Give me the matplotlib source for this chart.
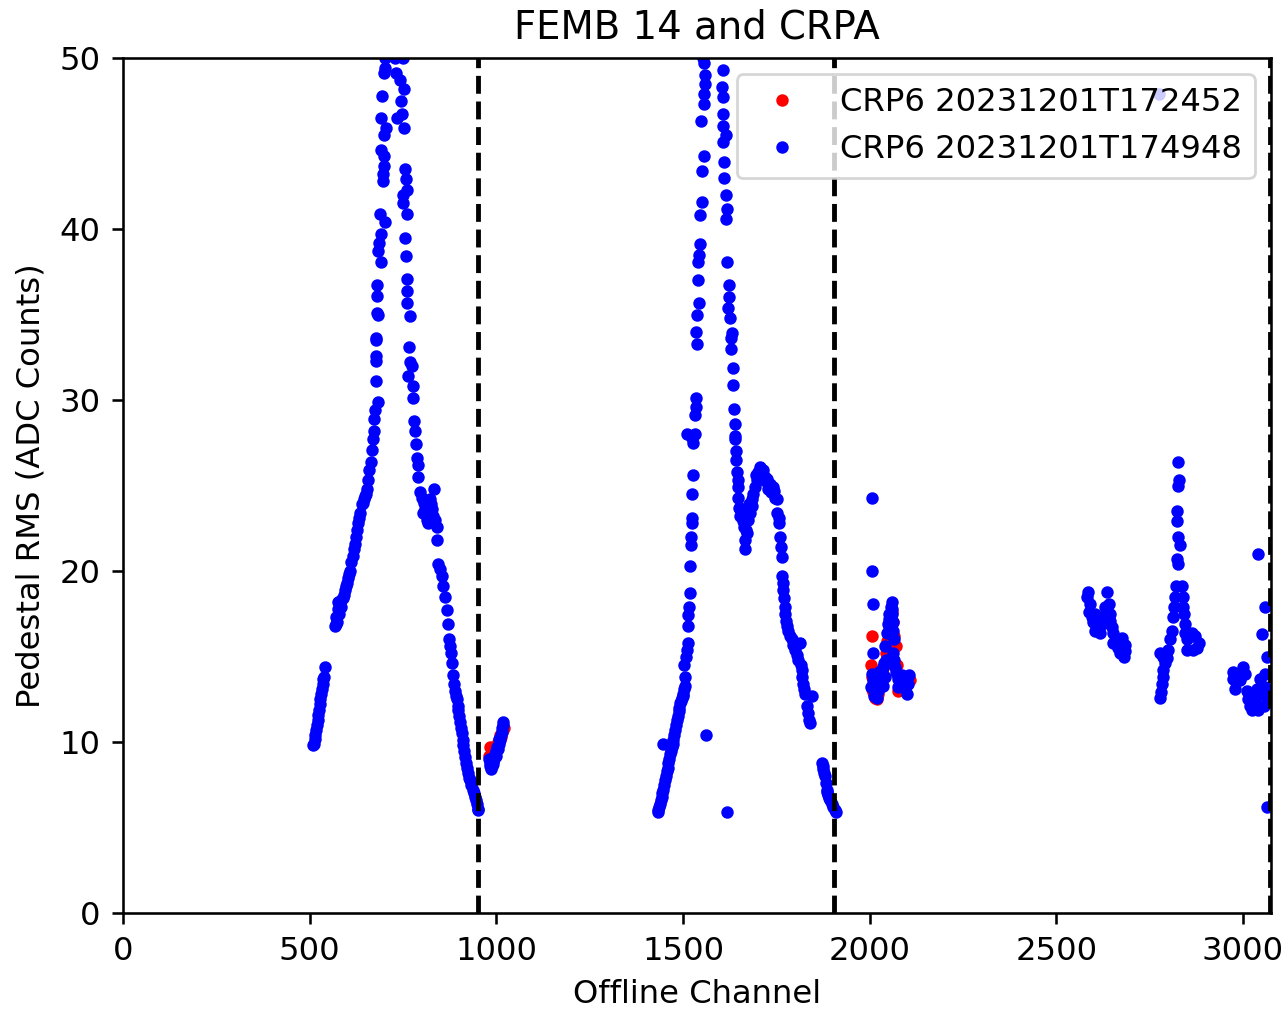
import matplotlib
matplotlib.use("Agg")
import matplotlib.pyplot as plt

# (offline channel, pedestal RMS) readings, run CRP6 20231201T174948
run2_ind1_low = [
    (510, 9.8), (512, 9.9), (513, 10.2), (515, 10.4), (517, 10.7), (519, 11.0),
    (521, 11.3), (523, 11.6), (525, 11.9), (527, 12.2), (529, 12.5), (531, 12.8),
    (533, 13.1), (535, 13.4), (537, 13.7), (539, 13.8), (541, 14.4),
]
run2_ind1_rise = [
    (568, 16.8), (570, 17.3), (571, 16.9), (573, 17.0), (575, 17.8), (577, 18.2),
    (579, 17.5), (581, 17.9), (583, 18.3), (585, 17.9), (588, 18.4), (591, 18.6),
    (594, 18.9), (597, 19.1), (600, 19.3), (603, 19.6), (606, 19.8), (609, 20.0),
    (612, 20.5), (615, 20.9), (618, 21.3), (621, 21.6), (624, 22.0), (627, 22.4),
    (630, 22.8), (633, 23.1), (636, 23.4), (639, 23.9), (642, 24.0), (645, 24.2),
    (648, 24.4), (651, 24.5), (654, 24.8), (657, 25.3), (660, 25.9), (663, 26.4),
    (666, 27.1), (669, 27.7), (671, 28.2), (673, 28.9), (675, 29.4), (682, 29.9),
    (678, 31.1), (678, 32.3), (678, 32.6), (679, 33.5),
]
run2_ind1_peak = [
    (678, 33.6), (684, 35.0), (681, 35.1), (681, 36.1), (681, 36.7), (690, 38.1),
    (684, 38.7), (687, 39.2), (690, 39.7), (702, 40.4), (688, 40.9), (696, 42.8),
    (696, 43.2), (698, 43.7), (700, 44.3), (690, 44.6), (700, 45.5), (705, 45.9),
    (690, 46.5), (695, 47.8), (698, 49.1), (702, 49.4), (702, 50.0),
    (729, 50.0), (751, 50.0), (731, 49.1), (741, 48.7), (753, 48.2), (744, 47.5),
    (733, 46.5), (748, 46.7), (753, 45.9), (755, 43.5), (757, 42.9), (762, 42.3),
    (751, 42.0), (751, 41.5), (760, 40.9), (755, 39.5), (758, 38.4), (760, 37.1),
    (762, 36.4), (762, 35.7), (769, 34.9),
]
run2_ind1_fall = [
    (767, 33.1), (769, 32.2), (773, 32.0), (764, 31.4), (776, 30.8), (778, 30.1),
    (780, 28.8), (782, 28.2), (785, 27.4), (787, 26.6), (791, 26.2), (791, 25.5),
    (796, 24.6), (800, 24.3), (803, 23.4), (805, 24.0), (807, 24.1), (809, 23.6),
    (811, 23.8), (813, 23.0), (816, 23.4), (818, 22.8), (820, 23.3), (822, 24.2),
    (824, 23.9), (827, 23.6), (829, 22.9), (831, 23.2), (833, 24.8), (836, 23.0),
    (840, 22.6), (840, 21.8), (845, 20.4), (849, 20.1), (854, 19.7), (858, 19.1),
    (863, 18.5), (867, 17.7), (871, 16.9), (874, 16.0), (877, 15.6), (879, 15.2),
    (880, 14.6), (883, 13.9), (886, 13.4), (889, 13.0), (892, 12.7), (894, 12.5),
    (896, 12.1), (898, 11.9), (901, 11.5), (903, 11.2), (905, 10.8), (907, 10.5),
    (910, 10.1), (912, 9.8), (914, 9.5), (916, 9.1), (919, 8.8), (922, 8.5),
    (925, 8.2), (928, 7.9), (930, 7.8), (933, 7.5), (937, 7.2), (940, 7.0),
    (943, 6.8), (946, 6.6), (949, 6.4), (951, 6.1), (952, 6.0),
]
run2_ind2_head = [
    (980, 9.0), (982, 8.6), (984, 8.8), (986, 8.4), (988, 8.6), (990, 8.9),
    (992, 8.7), (994, 9.0), (996, 9.3), (998, 9.2), (1000, 9.5), (1002, 9.7),
    (1004, 9.6), (1006, 9.9), (1008, 10.2), (1010, 10.1), (1012, 10.4),
    (1014, 10.6), (1016, 10.8), (1018, 11.0), (1019, 11.2),
]
run2_ind2_rise = [
    (1433, 5.9), (1434, 6.0), (1436, 6.2), (1438, 6.4), (1440, 6.6), (1443, 6.8),
    (1445, 7.0), (1447, 7.2), (1450, 7.5), (1452, 7.8), (1454, 8.0), (1456, 8.3),
    (1459, 8.5), (1461, 8.8), (1463, 9.0), (1465, 9.3), (1468, 9.5), (1470, 9.7),
    (1472, 9.9), (1474, 10.1), (1477, 10.4), (1479, 10.7), (1481, 11.0),
    (1483, 11.3), (1486, 11.5), (1488, 11.8), (1490, 12.0), (1492, 12.3),
    (1495, 12.4), (1497, 12.6), (1499, 12.7), (1501, 12.8), (1503, 13.1),
    (1505, 13.3), (1505, 13.8), (1504, 14.5), (1507, 15.0), (1510, 15.4),
    (1513, 15.8), (1513, 16.8), (1514, 17.4), (1517, 17.9), (1519, 18.7),
    (1519, 20.3), (1521, 21.5), (1522, 22.0), (1523, 22.8), (1523, 23.1),
    (1525, 24.5), (1526, 25.6), (1528, 27.5), (1523, 27.8), (1510, 28.0),
    (1532, 28.0), (1446, 9.9), (1562, 10.4), (1618, 5.9),
]
run2_ind2_peak = [
    (1532, 29.1), (1535, 29.6), (1535, 30.1), (1537, 33.3), (1535, 34.0),
    (1537, 35.0), (1543, 35.7), (1541, 37.0), (1539, 38.1), (1544, 38.5),
    (1546, 39.1), (1546, 40.8), (1550, 41.6), (1550, 43.4), (1555, 44.3),
    (1548, 46.3), (1556, 47.3), (1555, 47.9), (1559, 48.5), (1559, 49.0),
    (1555, 49.7), (1554, 50.0),
    (1608, 49.3), (1604, 48.3), (1606, 47.7), (1606, 46.7), (1608, 46.0),
    (1615, 45.5), (1608, 45.1), (1611, 43.9), (1611, 43.0), (1614, 42.0),
    (1619, 41.2), (1615, 40.6), (1617, 38.1), (1624, 36.7), (1624, 36.0),
    (1621, 35.4), (1626, 34.8), (1631, 33.9), (1628, 33.6), (1629, 33.0),
    (1633, 31.9), (1635, 30.9), (1637, 29.5), (1640, 28.6), (1640, 27.9),
]
run2_ind2_fall = [
    (1640, 27.7), (1642, 27.0), (1642, 26.5), (1644, 25.8), (1646, 25.3),
    (1648, 24.9), (1648, 24.3), (1651, 23.7), (1653, 23.2), (1657, 23.6),
    (1660, 22.9), (1663, 22.6), (1666, 21.8), (1666, 21.3), (1668, 22.4),
    (1671, 22.2), (1673, 23.4), (1675, 23.0), (1678, 23.9), (1680, 23.4),
    (1684, 23.8), (1686, 24.2), (1688, 24.5), (1693, 24.9), (1695, 25.6),
    (1698, 25.3), (1702, 25.8), (1705, 26.1), (1708, 25.6), (1711, 25.7),
    (1715, 25.9), (1718, 25.3), (1720, 25.5), (1724, 25.4), (1727, 24.8),
    (1729, 25.1), (1733, 25.1), (1736, 24.6), (1738, 24.7), (1741, 24.9),
    (1744, 24.7), (1747, 24.3), (1751, 24.2), (1753, 23.4), (1756, 23.1),
    (1758, 22.8), (1760, 22.0), (1763, 21.4), (1765, 20.8), (1766, 19.7),
    (1768, 19.3), (1769, 18.9), (1771, 18.4), (1772, 17.9), (1774, 17.5),
    (1776, 17.1), (1779, 16.8), (1782, 16.5), (1786, 16.2), (1791, 16.0),
    (1795, 15.7), (1800, 15.4), (1805, 15.1), (1809, 14.8), (1814, 15.8),
    (1815, 14.5), (1818, 14.2), (1820, 13.8), (1822, 13.4), (1825, 13.1),
    (1827, 12.8), (1831, 12.1), (1835, 11.7), (1838, 11.3), (1840, 11.1),
    (1845, 12.7),
    (1872, 8.8), (1874, 8.6), (1876, 8.4), (1878, 8.2), (1880, 8.0),
    (1883, 7.6), (1885, 7.2), (1887, 7.1), (1889, 6.9), (1892, 6.7),
    (1894, 6.6), (1898, 6.4), (1903, 6.2), (1907, 6.0), (1910, 5.9),
]
run2_col_a = [
    (2007, 24.3), (2007, 20.0), (2010, 18.1), (2010, 15.2), (2003, 13.2),
    (2005, 14.0), (2008, 13.6), (2010, 13.4), (2012, 12.7), (2014, 12.8),
    (2016, 13.3), (2019, 12.6), (2021, 13.9), (2023, 13.0), (2025, 14.1),
    (2028, 13.6), (2030, 13.8), (2032, 14.2), (2035, 13.9), (2037, 14.4),
    (2037, 13.3), (2039, 14.6), (2041, 13.8), (2041, 15.6), (2044, 14.8),
    (2046, 16.4), (2049, 16.9), (2051, 17.2), (2053, 17.5), (2056, 17.9),
    (2059, 18.2), (2060, 17.8), (2061, 17.5), (2062, 17.0), (2063, 16.5),
    (2065, 16.0), (2063, 15.2), (2066, 14.8), (2068, 14.4), (2070, 14.1),
    (2072, 14.0), (2075, 13.7), (2077, 13.2), (2079, 13.9), (2081, 13.6),
    (2084, 13.4), (2086, 13.9), (2088, 13.5), (2090, 13.8), (2093, 13.3),
    (2095, 13.2), (2097, 13.7), (2099, 13.6), (2101, 12.8), (2104, 13.4),
    (2106, 13.9),
]
run2_col_b = [
    (2582, 18.5), (2586, 18.8), (2590, 18.1), (2588, 17.6), (2595, 17.3),
    (2599, 17.0), (2604, 16.5), (2604, 17.5), (2608, 17.1), (2613, 16.7),
    (2617, 16.4), (2622, 16.9), (2626, 17.3), (2631, 17.9), (2635, 18.8),
    (2640, 18.1), (2644, 17.5), (2644, 17.1), (2649, 16.7), (2651, 16.4),
    (2653, 15.8), (2662, 16.0), (2666, 15.5), (2671, 15.2), (2675, 16.1),
    (2680, 15.0), (2684, 15.7), (2684, 15.3),
]
run2_col_c = [
    (2778, 12.6), (2780, 12.9), (2783, 13.4), (2787, 13.8), (2787, 14.2),
    (2791, 14.6), (2778, 15.2), (2787, 15.0), (2796, 14.9), (2800, 15.4),
    (2805, 16.0), (2809, 16.5), (2812, 17.3), (2814, 17.9), (2818, 18.5),
    (2821, 19.1), (2823, 20.7), (2827, 20.4), (2831, 21.5), (2827, 22.0),
    (2824, 22.9), (2823, 23.5), (2827, 25.0), (2829, 25.3), (2827, 26.4),
    (2836, 19.1), (2839, 18.5), (2840, 17.9), (2842, 17.5), (2845, 16.9),
    (2845, 16.4), (2849, 16.0), (2849, 15.4), (2858, 16.2), (2863, 16.4),
    (2867, 15.4), (2872, 16.2), (2876, 15.5), (2881, 15.8), (2775, 47.9),
]
run2_col_d = [
    (2974, 14.1), (2974, 13.7), (2979, 13.1), (2988, 14.0), (2992, 13.6),
    (3001, 14.4), (3006, 14.0), (3010, 13.0), (3014, 12.5), (3019, 12.1),
    (3023, 11.9), (3028, 12.8), (3032, 12.5), (3037, 13.1), (3041, 11.9),
    (3046, 13.7), (3050, 12.8), (3055, 12.1), (3059, 14.0), (3059, 13.2),
    (3064, 15.0), (3064, 12.6), (3050, 16.3), (3059, 17.9), (3041, 21.0),
    (3064, 6.2),
]

# (offline channel, pedestal RMS) readings, run CRP6 20231201T172452
run1_ind2_head = [
    (980, 9.2), (983, 9.7), (986, 8.8), (989, 9.0), (992, 9.3), (995, 9.1),
    (998, 9.6), (1001, 9.8), (1004, 10.0), (1007, 10.1), (1010, 10.4),
    (1013, 10.3), (1016, 10.6), (1019, 10.9), (1021, 10.8),
]
run1_col_a = [
    (2005, 16.2), (2004, 14.5), (2005, 13.8), (2007, 13.1), (2010, 12.9),
    (2014, 12.6), (2019, 12.5), (2023, 12.8), (2028, 13.2), (2032, 13.7),
    (2037, 14.0), (2041, 14.5), (2044, 15.2), (2047, 15.9), (2051, 16.6),
    (2055, 17.3), (2059, 17.6), (2063, 17.0), (2066, 16.2), (2071, 15.6),
    (2074, 14.5), (2077, 13.0), (2081, 13.3), (2086, 13.6), (2090, 13.4),
    (2095, 13.1), (2101, 13.5), (2108, 13.6),
]

# plane boundaries (induction 1 | induction 2 | collection)
plane_edges = [952, 1904, 3072]

run1_label = "CRP6 20231201T172452"
run2_label = "CRP6 20231201T174948"


def unpack(*segments):
    chans, rms = [], []
    for seg in segments:
        for c, r in seg:
            chans.append(c)
            rms.append(r)
    return chans, rms


run1_ch, run1_rms = unpack(run1_ind2_head, run1_col_a)
run2_ch, run2_rms = unpack(run2_ind1_low, run2_ind1_rise, run2_ind1_peak,
                           run2_ind1_fall, run2_ind2_head, run2_ind2_rise,
                           run2_ind2_peak, run2_ind2_fall, run2_col_a,
                           run2_col_b, run2_col_c, run2_col_d)

k = 1.16  # overall scale of text and line sizes
plt.rcParams.update({
    "font.size": 10 * k,
    "axes.linewidth": 0.8 * k,
    "xtick.major.size": 3.5 * k,
    "ytick.major.size": 3.5 * k,
    "xtick.major.width": 0.8 * k,
    "ytick.major.width": 0.8 * k,
    "xtick.major.pad": 3.5 * k,
    "ytick.major.pad": 3.5 * k,
    "axes.titlepad": 6 * k,
    "axes.labelpad": 4 * k,
    "lines.markersize": 6 * k,
    "lines.linewidth": 1.5 * k,
})

fig, ax = plt.subplots(figsize=(6.44, 5.065), dpi=200)
fig.subplots_adjust(left=0.0955, right=0.9868, bottom=0.0987, top=0.9427)

ax.plot(run1_ch, run1_rms, ".", color="red", label=run1_label)
ax.plot(run2_ch, run2_rms, ".", color="blue", label=run2_label)
for edge in plane_edges:
    ax.axvline(edge, color="black", linestyle="--")

ax.set_xlim(0, 3075)
ax.set_ylim(0, 50)
ax.set_title("FEMB 14 and CRPA")
ax.set_xlabel("Offline Channel")
ax.set_ylabel("Pedestal RMS (ADC Counts)")
ax.legend(loc="upper right", borderaxespad=0.5)

fig.savefig("out.png", dpi=200)
